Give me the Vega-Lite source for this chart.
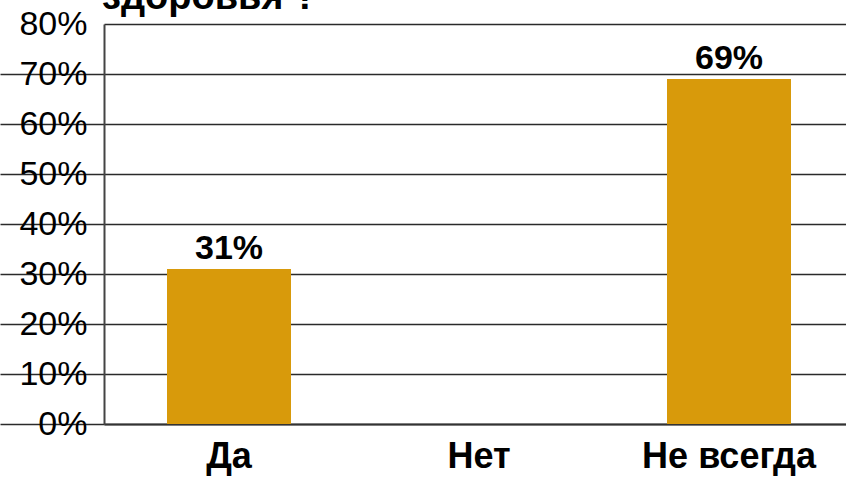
{
  "$schema": "https://vega.github.io/schema/vega-lite/v6.json",
  "width": 750,
  "height": 400,
  "autosize": {"type": "none"},
  "padding": {"left": 104, "top": 24, "right": 0, "bottom": 54},
  "background": "white",
  "title": {
    "text": "здоровья ?",
    "anchor": "start",
    "frame": "group",
    "baseline": "alphabetic",
    "offset": -10,
    "dy": 30,
    "dx": -2,
    "font": "Liberation Sans",
    "fontSize": 38,
    "fontWeight": "bold",
    "color": "black"
  },
  "data": {
    "values": [
      {"answer": "Да", "value": 0.31, "label": "31%"},
      {"answer": "Нет", "value": 0, "label": ""},
      {"answer": "Не всегда", "value": 0.69, "label": "69%"}
    ]
  },
  "encoding": {
    "x": {
      "field": "answer",
      "type": "nominal",
      "sort": null,
      "scale": {"paddingInner": 0.504, "paddingOuter": 0.252},
      "axis": {
        "title": null,
        "labelAngle": 0,
        "ticks": false,
        "labelPadding": 15,
        "labelFont": "Liberation Sans",
        "labelFontSize": 36,
        "labelFontWeight": "bold",
        "labelColor": "black",
        "domainColor": "#333333",
        "domainWidth": 2
      }
    },
    "y": {
      "field": "value",
      "type": "quantitative",
      "scale": {"domain": [0, 0.8], "nice": false},
      "axis": {
        "title": null,
        "values": [0, 0.1, 0.2, 0.3, 0.4, 0.5, 0.6, 0.7, 0.8],
        "format": ".0%",
        "grid": true,
        "gridColor": "#2a2a2a",
        "gridWidth": 1.5,
        "domainColor": "#444444",
        "domainWidth": 2,
        "tickSize": 104,
        "tickColor": "#2a2a2a",
        "tickWidth": 1.5,
        "tickOpacity": {"condition": {"test": "datum.value >= 0.8", "value": 0}, "value": 1},
        "labelPadding": -87,
        "labelFont": "Liberation Sans",
        "labelFontSize": 34,
        "labelColor": "black"
      }
    }
  },
  "layer": [
    {"mark": {"type": "bar", "color": "#D89A0B"}},
    {
      "mark": {
        "type": "text",
        "baseline": "alphabetic",
        "dy": -10,
        "font": "Liberation Sans",
        "fontSize": 34,
        "fontWeight": "bold",
        "color": "black"
      },
      "encoding": {"text": {"field": "label"}}
    }
  ],
  "config": {"view": {"stroke": null}}
}
